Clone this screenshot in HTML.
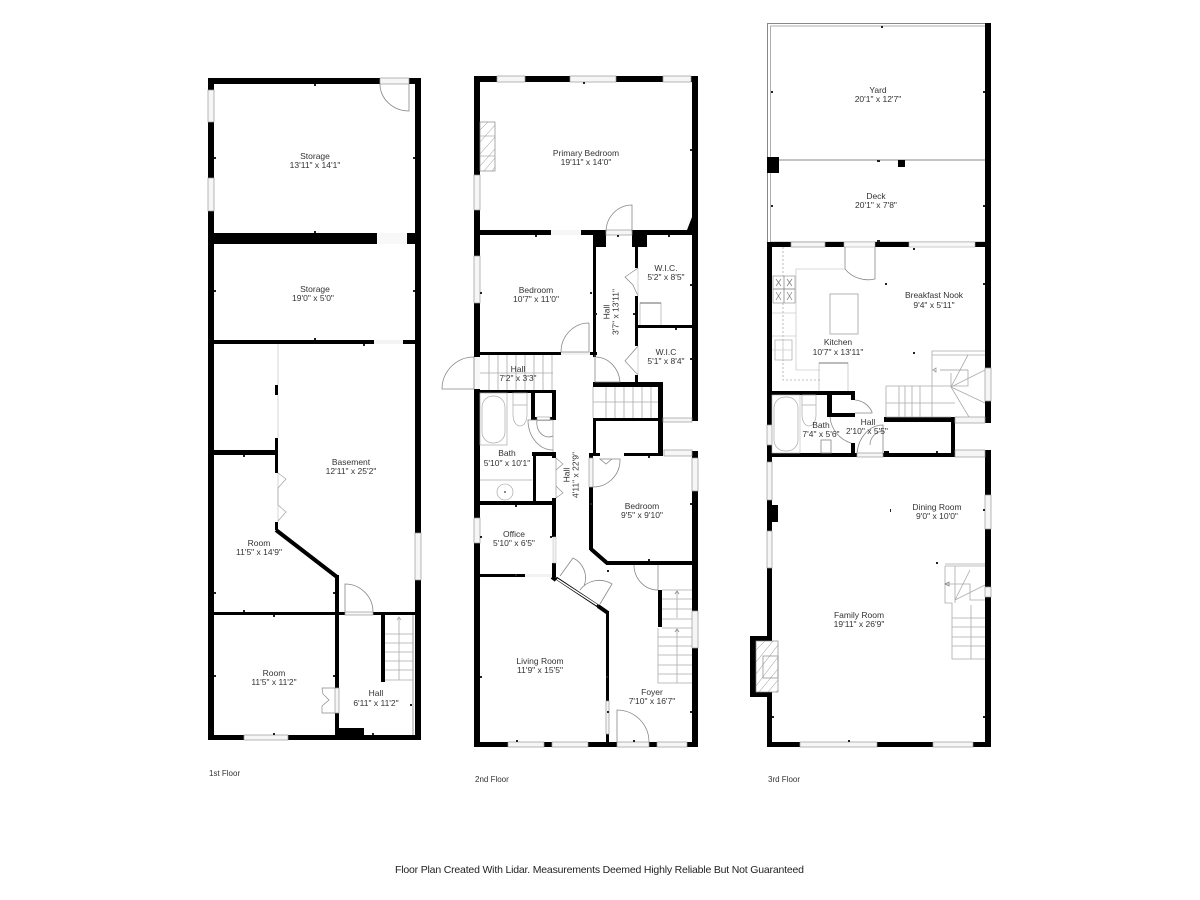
<!DOCTYPE html>
<html><head><meta charset="utf-8"><style>
html,body{margin:0;padding:0;background:#fff;width:1200px;height:900px;overflow:hidden}
svg{display:block}
text{font-family:"Liberation Sans",sans-serif;font-size:8.5px;fill:#333;text-anchor:middle}
.f{text-anchor:start;font-size:8px}
.w{fill:#f6f6f6;stroke:#999;stroke-width:.7}
.g{fill:none;stroke:#888;stroke-width:.8}
.l{fill:none;stroke:#aaa;stroke-width:.8}
.p{fill:none;stroke:#ccc;stroke-width:.8}
.k{fill:none;stroke:#000;stroke-width:4}
</style></head><body>
<svg width="1200" height="900" viewBox="0 0 1200 900" xmlns="http://www.w3.org/2000/svg">
<rect width="1200" height="900" fill="#fff"/>

<!-- FLOOR 1 -->
<g fill="#000">
<rect x="208" y="78" width="213" height="6"/>
<rect x="208" y="78" width="6" height="662"/>
<rect x="415" y="78" width="6" height="662"/>
<rect x="208" y="735" width="213" height="5"/>
<rect x="214" y="233" width="201" height="11"/>
<rect x="214" y="340" width="201" height="4"/>
<rect x="275" y="385" width="3" height="10"/>
<rect x="275" y="438" width="3" height="35"/>
<rect x="214" y="450" width="61" height="5"/>
<rect x="275" y="522" width="3" height="8"/>
<rect x="335" y="575" width="4" height="160"/>
<rect x="214" y="612" width="201" height="3"/>
<rect x="381" y="615" width="4" height="67"/>
<rect x="339" y="728" width="25" height="7"/>
</g>
<path d="M276 530L337 577" class="k"/>
<rect x="208" y="90" width="6" height="32" class="w"/>
<rect x="208" y="178" width="6" height="33" class="w"/>
<rect x="380" y="78" width="29" height="6" class="w"/>
<path d="M409 84V111A29 27 0 0 1 380 84" class="g"/>
<rect x="377" y="233" width="30" height="11" fill="#f8f8f8"/>
<rect x="374" y="340" width="29" height="4" fill="#f4f4f4"/>
<path d="M278 344V385M278 395V438M278 473V522" class="p"/>
<path d="M278 473l8 6-8 9 0 0M278 505l8 7-8 9M278 488V505" fill="none" stroke="#999" stroke-width=".6"/>
<rect x="415" y="533" width="6" height="47" class="w"/>
<rect x="345" y="612" width="28" height="3" class="w"/>
<path d="M345 612V584A28 28 0 0 1 373 612" class="g"/>
<rect x="335" y="688" width="4" height="25" class="w"/>
<path d="M335 688H322l1 6 6 6-7 6 0 7H335" fill="none" stroke="#888" stroke-width=".7"/>
<rect x="244" y="735" width="44" height="5" class="w"/>
<path d="M385 634H413M385 643H413M385 652H413M385 661H413M385 670H413M385 680H413M399 680V617M397 620L399 617 401 620" class="l"/>
<path d="M413 615V735" fill="none" stroke="#999"/>
<text x="315" y="159">Storage</text><text x="315" y="168">13'11" x 14'1"</text>
<text x="315" y="292">Storage</text><text x="313" y="301">19'0" x 5'0"</text>
<text x="351" y="465">Basement</text><text x="351" y="474">12'11" x 25'2"</text>
<text x="259" y="546">Room</text><text x="259" y="555">11'5" x 14'9"</text>
<text x="274" y="676">Room</text><text x="274" y="685">11'5" x 11'2"</text>
<text x="376" y="696">Hall</text><text x="376" y="706">6'11" x 11'2"</text>
<text x="209" y="776" class="f">1st Floor</text>

<!-- FLOOR 2 -->
<g fill="#000">
<rect x="474" y="76" width="224" height="6"/>
<rect x="474" y="76" width="6" height="281"/>
<rect x="474" y="389" width="6" height="358"/>
<rect x="692" y="76" width="6" height="345"/>
<rect x="692" y="451" width="6" height="296"/>
<rect x="474" y="742" width="224" height="5"/>
<rect x="480" y="230" width="212" height="5"/>
<rect x="593" y="235" width="13" height="12"/>
<rect x="632" y="230" width="15" height="17"/>
<path d="M687 230L692 217V230Z"/>
<rect x="593" y="247" width="3" height="110"/>
<rect x="480" y="352" width="117" height="3"/>
<rect x="593" y="382" width="70" height="5"/>
<rect x="593" y="418" width="70" height="3"/>
<rect x="593" y="418" width="3" height="38"/>
<rect x="658" y="385" width="5" height="71"/>
<rect x="589" y="453" width="11" height="3"/>
<rect x="624" y="453" width="39" height="3"/>
<rect x="635" y="247" width="3" height="21"/>
<rect x="635" y="296" width="3" height="50"/>
<rect x="635" y="375" width="3" height="8"/>
<rect x="638" y="325" width="54" height="3"/>
<rect x="480" y="390" width="76" height="3"/>
<rect x="552" y="390" width="4" height="30"/>
<rect x="531" y="393" width="4" height="27"/>
<rect x="531" y="417" width="25" height="3"/>
<rect x="532" y="452" width="24" height="4"/>
<rect x="533" y="452" width="3" height="50"/>
<rect x="480" y="501" width="76" height="4"/>
<rect x="552" y="452" width="4" height="6"/>
<rect x="552" y="498" width="4" height="39"/>
<rect x="552" y="563" width="4" height="14"/>
<rect x="480" y="574" width="45" height="3"/>
<rect x="589" y="453" width="4" height="5"/>
<rect x="589" y="487" width="4" height="63"/>
<rect x="606" y="561" width="86" height="4"/>
<rect x="658" y="590" width="4" height="37"/>
<rect x="606" y="611" width="3" height="90"/>
<rect x="606" y="734" width="3" height="8"/>
</g>
<path d="M591 549L607 563M598 606L608 613M552 577L556 580" class="k"/>
<rect x="537" y="417" width="13" height="3.500" fill="#fff" stroke="#999" stroke-width=".6"/>
<rect x="497" y="76" width="28" height="6" class="w"/>
<rect x="570" y="76" width="46" height="6" class="w"/>
<rect x="663" y="76" width="28" height="6" class="w"/>
<rect x="474" y="175" width="6" height="35" class="w"/>
<rect x="474" y="256" width="6" height="47" class="w"/>
<rect x="474" y="518" width="6" height="25" class="w"/>
<rect x="692" y="458" width="6" height="33" class="w"/>
<rect x="692" y="611" width="6" height="37" class="w"/>
<rect x="663" y="418" width="29" height="4" class="w"/>
<rect x="664" y="450" width="28" height="6" class="w"/>
<rect x="508" y="742" width="36" height="5" class="w"/>
<rect x="552" y="742" width="36" height="5" class="w"/>
<rect x="617" y="742" width="32" height="5" class="w"/>
<rect x="657" y="742" width="30" height="5" class="w"/>
<path d="M617 742V710A32 32 0 0 1 649 742" class="g"/>
<rect x="551" y="230" width="30" height="5" fill="#f6f6f6"/>
<rect x="606" y="230" width="26" height="5" class="w"/>
<path d="M632 232V205A26 27 0 0 0 606 232" class="g"/>
<!-- fireplace -->
<rect x="480" y="122" width="15" height="49" fill="#fff" stroke="#888" stroke-width=".7"/>
<path d="M480 136H495M480 156H495M480 130L488 122M480 142L495 125M480 154L495 137M480 166L495 149M484 171L495 158M492 171L495 167" fill="none" stroke="#888" stroke-width=".5"/>
<!-- bedroom door -->
<rect x="561" y="352" width="29" height="3" fill="#f2f2f2"/>
<path d="M589 323V352H561A28 29 0 0 1 589 323" class="g"/>
<!-- left door -->
<rect x="474" y="357" width="6" height="32" fill="#f8f8f8"/>
<path d="M474 357V389H442A32 32 0 0 1 474 357" class="g"/>
<!-- hall door -->
<path d="M595 355V382H620A25 27 0 0 0 596 357" class="g"/>
<!-- wic doors -->
<path d="M638 268L625 277 633 285 638 296M638 346L625 361 638 375" fill="none" stroke="#888" stroke-width=".7"/>
<path d="M638 268V296M638 346V375" class="p"/>
<path d="M661 325V303H640V325" fill="none" stroke="#aaa" stroke-width=".7"/>
<path d="M640 303H661" stroke="#666"/>
<!-- landing stair -->
<path d="M489 355V390M498 355V390M507 355V390M516 355V390M525 355V390M534 355V390M543 355V390M552 355V390M480 373H553" class="l"/>
<!-- mid stair -->
<path d="M593 387V418M606 387V418M615 387V418M624 387V418M633 387V418M642 387V418M651 387V418M593 402H658" class="l"/>
<!-- bath -->
<rect x="480" y="393" width="27" height="52" fill="none" stroke="#aaa" stroke-width=".7"/>
<rect x="482" y="396" width="23" height="47" rx="11" fill="none" stroke="#aaa" stroke-width=".7"/>
<path d="M513 393H527V405H513ZM513 405V415A7 11 0 0 0 527 415V405" fill="none" stroke="#aaa" stroke-width=".7"/>
<path d="M480 480H532" class="l"/>
<circle cx="505" cy="492" r="8" fill="none" stroke="#999" stroke-width=".6"/>
<circle cx="505" cy="492" r="1" fill="#666"/>
<path d="M553 420V452" stroke="#bbb" fill="none"/>
<path d="M553 450A25 30 0 0 1 528 420H553M553 436A12 14 0 0 1 537 420" class="g"/>
<path d="M556 458L563 464 556 470M556 486L563 493 556 498M556 458V498" fill="none" stroke="#888" stroke-width=".6"/>
<!-- bedroom side -->
<rect x="589" y="458" width="4" height="29" class="w"/>
<path d="M593 487A27 27 0 0 0 620 459H600L606 464 612 459 620 459" class="g"/>
<path d="M658 565V590A24 25 0 0 1 634 565" class="g"/>
<rect x="525" y="574" width="27" height="3" fill="#f2f2f2"/>
<rect x="553" y="537" width="3" height="26" fill="#f2f2f2" stroke="#bbb" stroke-width=".5"/>
<!-- angled double door -->
<path d="M556 578L598 606" stroke="#000" stroke-width="3"/>
<path d="M557 579L597 605" stroke="#fff" stroke-width="1.500"/>
<path d="M560 576L573 558A22 22 0 0 1 584 586M600 604L612 584A24 24 0 0 0 580 590" class="g"/>
<!-- foyer stair -->
<path d="M662 590H692M662 619H692M662 599H692M662 609H692M677 592V618M662 628H692M658 628V683H692M658 637H692M658 646H692M658 655H692M658 665H692M658 674H692M677 630V683" class="l"/>
<path d="M675 594L677 591 679 594M675 632L677 629 679 632" class="g"/>
<rect x="606" y="701" width="3" height="33" class="w"/>
<text x="586" y="156">Primary Bedroom</text><text x="586" y="165">19'11" x 14'0"</text>
<text x="536" y="293">Bedroom</text><text x="536" y="302">10'7" x 11'0"</text>
<text transform="translate(609.500 312) rotate(-90)">Hall</text>
<text transform="translate(618.500 312) rotate(-90)">3'7" x 13'11"</text>
<text x="666" y="271">W.I.C.</text><text x="666" y="280">5'2" x 8'5"</text>
<text x="666" y="355">W.I.C</text><text x="666" y="364">5'1" x 8'4"</text>
<text x="518" y="372">Hall</text><text x="518" y="381">7'2" x 3'3"</text>
<text x="507" y="456">Bath</text><text x="507" y="466">5'10" x 10'1"</text>
<text transform="translate(569.500 475) rotate(-90)">Hall</text>
<text transform="translate(578.500 475) rotate(-90)">4'11" x 22'9"</text>
<text x="642" y="509">Bedroom</text><text x="642" y="518">9'5" x 9'10"</text>
<text x="514" y="537">Office</text><text x="514" y="546">5'10" x 6'5"</text>
<text x="540" y="664">Living Room</text><text x="540" y="673">11'9" x 15'5"</text>
<text x="652" y="695">Foyer</text><text x="652" y="704">7'10" x 16'7"</text>
<text x="475" y="782" class="f">2nd Floor</text>

<!-- FLOOR 3 -->
<rect x="767.500" y="23.500" width="218" height="219" fill="none" stroke="#888" stroke-width="1"/>
<rect x="770.500" y="26" width="215" height="216" fill="none" stroke="#999" stroke-width=".8"/>
<path d="M771 160H985" stroke="#888" fill="none"/>
<g fill="#000">
<rect x="985" y="23" width="6" height="400"/>
<rect x="985" y="450" width="6" height="297"/>
<rect x="767" y="157" width="12" height="16"/>
<rect x="898" y="160" width="7" height="7"/>
<rect x="767" y="242" width="224" height="5"/>
<rect x="767" y="242" width="5" height="505"/>
<rect x="767" y="742" width="224" height="5"/>
<rect x="772" y="391" width="83" height="4"/>
<rect x="772" y="453" width="183" height="4"/>
<rect x="827" y="395" width="5" height="22"/>
<rect x="827" y="413" width="28" height="4"/>
<rect x="851" y="395" width="4" height="5"/>
<rect x="851" y="443" width="4" height="14"/>
<rect x="884" y="417" width="71" height="5"/>
<rect x="884" y="451" width="5" height="6"/>
<rect x="951" y="417" width="4" height="40"/>
<rect x="772" y="505" width="6" height="17"/>
<rect x="750" y="636" width="22" height="61"/>
</g>
<rect x="791" y="242" width="34" height="5" class="w"/>
<rect x="844" y="242" width="31" height="5" fill="#f8f8f8" stroke="#aaa" stroke-width=".6"/>
<rect x="909" y="242" width="66" height="5" fill="#f8f8f8" stroke="#aaa" stroke-width=".6"/>
<rect x="767" y="425" width="5" height="20" class="w"/>
<rect x="767" y="462" width="5" height="38" class="w"/>
<rect x="767" y="531" width="5" height="37" class="w"/>
<rect x="985" y="368" width="6" height="33" class="w"/>
<rect x="985" y="495" width="6" height="34" class="w"/>
<rect x="985" y="587" width="6" height="10" class="w"/>
<rect x="955" y="417" width="30" height="6" class="w"/>
<rect x="955" y="450" width="30" height="7" class="w"/>
<rect x="985" y="423" width="6" height="27" fill="#fff"/>
<rect x="800" y="742" width="77" height="5" class="w"/>
<rect x="933" y="742" width="40" height="5" class="w"/>
<rect x="857" y="453" width="26" height="4" class="w"/>
<!-- kitchen -->
<path d="M845 247V269M875 247V279A30 30 0 0 1 845 269" class="g"/>
<path d="M783 247V380H820" fill="none" stroke="#aaa" stroke-width=".8" stroke-dasharray="2 2"/>
<path d="M845 269H796V370H820" class="p"/>
<rect x="773" y="276" width="22" height="27" fill="#fff" stroke="#999" stroke-width=".7"/>
<path d="M784 276V303M773 289H795M776 279L781 286M781 279L776 286M787 279L792 286M792 279L787 286M776 292L781 300M781 292L776 300M787 292L792 300M792 292L787 300" fill="none" stroke="#777" stroke-width=".7"/>
<rect x="775" y="340" width="17" height="20" fill="none" stroke="#aaa" stroke-width=".7"/>
<path d="M772 313H796M772 336H796M772 350H792M783 340V360" class="p"/>
<rect x="830" y="294" width="28" height="40" fill="#fff" stroke="#aaa" stroke-width=".9"/>
<path d="M819 391V363H848V391" fill="none" stroke="#bbb" stroke-width=".7"/>
<path d="M819 363H848" stroke="#777" stroke-width="1"/>
<!-- bath 3 -->
<rect x="772" y="395" width="28" height="58" fill="none" stroke="#bbb" stroke-width=".6"/>
<rect x="774" y="397" width="24" height="54" rx="11" fill="none" stroke="#aaa" stroke-width=".7"/>
<path d="M802 395H816V405H802ZM802 405V415A7 11 0 0 0 816 415V405" fill="none" stroke="#aaa" stroke-width=".7"/>
<rect x="821" y="440" width="10" height="13" fill="none" stroke="#888" stroke-width=".8"/>
<path d="M851 443A30 30 0 0 1 830 417" class="g"/>
<path d="M855 400A20 20 0 0 1 872 412V413L855 413" class="g"/>
<path d="M857 453A26 32 0 0 1 883 425V453" class="g"/>
<path d="M870 445A14 14 0 0 1 884 431" class="g"/>
<!-- stair 3 upper -->
<path d="M886 386H951M886 417H951M886 386V417M899 386V417M905 386V417M912 386V417M920 386V417M932 386V417M886 403H955" class="l"/>
<path d="M932 386V351H985M932 355H985M951 387V373M951 387L968 355M951 387L985 370M951 387L985 403M951 387L969 417M968 370V386H951" class="l"/>
<path d="M940 370H968M933 370L936 368V372Z" fill="none" stroke="#999" stroke-width=".8"/>
<!-- family stairs -->
<path d="M945 564H985M945 566H985M955 566V603M945 566V603H952V659H985M955 584H970V600H985M955 600L970 570M955 600L985 585M945 584H970M952 618H985M952 627H985M952 637H985M952 646H985M971 605V659" class="l"/>
<path d="M945 584L949 582V586Z" class="g"/>
<!-- fireplace -->
<rect x="756" y="641" width="22" height="51" fill="#fff" stroke="#888" stroke-width=".7"/>
<rect x="763" y="656" width="15" height="22" fill="none" stroke="#888" stroke-width=".7"/>
<path d="M756 650L765 641M756 662L773 641M756 674L778 645M756 686L778 657M759 692L778 669M768 692L778 680M776 692L778 690" fill="none" stroke="#888" stroke-width=".5"/>
<text x="878" y="93">Yard</text><text x="878" y="102">20'1" x 12'7"</text>
<text x="876" y="199">Deck</text><text x="876" y="208">20'1" x 7'8"</text>
<text x="934" y="298">Breakfast Nook</text><text x="934" y="308">9'4" x 5'11"</text>
<text x="838" y="345">Kitchen</text><text x="838" y="355">10'7" x 13'11"</text>
<text x="821" y="428">Bath</text><text x="821" y="437">7'4" x 5'6"</text>
<text x="868" y="425">Hall</text><text x="867" y="434">2'10" x 5'5"</text>
<text x="937" y="510">Dining Room</text><text x="937" y="519">9'0" x 10'0"</text>
<text x="859" y="618">Family Room</text><text x="859" y="627">19'11" x 26'9"</text>
<text x="768" y="782" class="f">3rd Floor</text>

<!-- ticks -->
<g fill="#222">
<rect x="314" y="84" width="2" height="2"/><rect x="214" y="157" width="2" height="2"/><rect x="413" y="157" width="2" height="2"/>
<rect x="314" y="231" width="2" height="2"/><rect x="214" y="290" width="2" height="2"/><rect x="413" y="290" width="2" height="2"/>
<rect x="314" y="338" width="2" height="2"/><rect x="363" y="344" width="2" height="2"/><rect x="243" y="455" width="2" height="2"/>
<rect x="214" y="592" width="2" height="2"/><rect x="333" y="592" width="2" height="2"/><rect x="243" y="610" width="2" height="2"/><rect x="273" y="615" width="2" height="2"/>
<rect x="214" y="675" width="2" height="2"/><rect x="333" y="675" width="2" height="2"/><rect x="273" y="733" width="2" height="2"/><rect x="372" y="733" width="2" height="2"/><rect x="410" y="704" width="2" height="2"/>
<rect x="583" y="82" width="2" height="2"/><rect x="690" y="149" width="2" height="2"/><rect x="535" y="235" width="2" height="2"/><rect x="668" y="235" width="2" height="2"/><rect x="617" y="235" width="2" height="2"/>
<rect x="590" y="292" width="2" height="2"/><rect x="480" y="292" width="2" height="2"/><rect x="595" y="313" width="2" height="2"/><rect x="633" y="313" width="2" height="2"/>
<rect x="690" y="284" width="2" height="2"/><rect x="690" y="358" width="2" height="2"/><rect x="675" y="328" width="2" height="2"/>
<rect x="515" y="505" width="2" height="2"/><rect x="590" y="503" width="2" height="2"/><rect x="690" y="503" width="2" height="2"/><rect x="648" y="456" width="2" height="2"/><rect x="648" y="559" width="2" height="2"/>
<rect x="480" y="536" width="2" height="2"/><rect x="550" y="536" width="2" height="2"/><rect x="515" y="574" width="2" height="2"/><rect x="606" y="676" width="2" height="2"/><rect x="480" y="676" width="2" height="2"/>
<rect x="516" y="740" width="2" height="2"/><rect x="633" y="740" width="2" height="2"/><rect x="690" y="711" width="2" height="2"/><rect x="607" y="711" width="2" height="2"/><rect x="607" y="570" width="2" height="2"/>
<rect x="881" y="26" width="2" height="2"/><rect x="771" y="91" width="2" height="2"/><rect x="983" y="91" width="2" height="2"/><rect x="877" y="160" width="3" height="2"/>
<rect x="771" y="205" width="2" height="2"/><rect x="983" y="205" width="2" height="2"/><rect x="877" y="240" width="3" height="2"/><rect x="913" y="248" width="2" height="2"/>
<rect x="885" y="283" width="2" height="2"/><rect x="983" y="283" width="2" height="2"/><rect x="913" y="352" width="2" height="2"/><rect x="936" y="451" width="2" height="2"/>
<rect x="890" y="509" width="1" height="3"/><rect x="983" y="509" width="2" height="2"/><rect x="936" y="562" width="2" height="2"/><rect x="772" y="716" width="2" height="2"/><rect x="983" y="716" width="2" height="2"/><rect x="848" y="740" width="2" height="2"/>
</g>

<text x="599.500" y="873" style="font-size:10.500px;fill:#222" textLength="409" lengthAdjust="spacing">Floor Plan Created With Lidar. Measurements Deemed Highly Reliable But Not Guaranteed</text>
</svg>
</body></html>
